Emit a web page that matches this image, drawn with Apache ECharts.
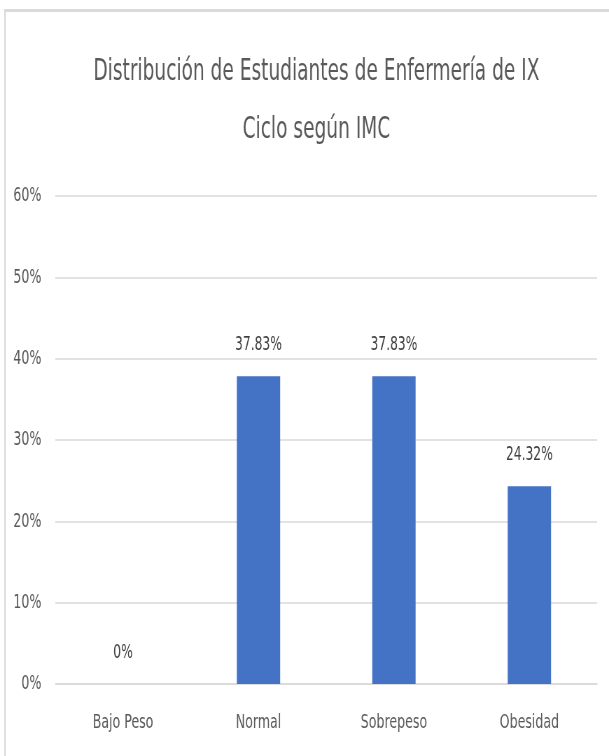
<!DOCTYPE html>
<html>
<head>
<meta charset="utf-8">
<script src="https://cdn.jsdelivr.net/npm/echarts@6/dist/echarts.min.js"></script>
<style>
  html, body { margin: 0; padding: 0; background: #fff; overflow: hidden; }
  #frame { position: absolute; left: 4px; top: 9px; width: 620px; height: 745px;
           border-top: 3px solid #dadada; border-left: 2px solid #e0e0e0; }
  /* el gráfico se dibuja más ancho y se comprime en horizontal, como el original */
  #chart { position: absolute; left: 0; top: 0; width: 870px; height: 756px;
           transform: scaleX(0.7); transform-origin: 0 0; }
</style>
</head>
<body>
<div id="frame"></div>
<div id="chart"></div>
<script>
  // datos del gráfico
  var categorias = ['Bajo Peso', 'Normal', 'Sobrepeso', 'Obesidad'];
  var porcentajes = [0, 37.83, 37.83, 24.32];
  var etiquetas = ['0%', '37.83%', '37.83%', '24.32%'];

  var fuente = '"DejaVu Sans Condensed", "DejaVu Sans", sans-serif';
  var myChart = echarts.init(document.getElementById('chart'));

  var option = {
    animation: false,
    title: {
      text: 'Distribución de Estudiantes de Enfermería de IX\nCiclo según IMC',
      left: 447,
      textAlign: 'center',
      top: 38,
      textStyle: {
        fontFamily: fuente,
        fontWeight: 'normal',
        fontSize: 29.5,
        lineHeight: 58,
        color: '#595959'
      }
    },
    grid: {
      left: 79,
      right: 17,
      top: 196,
      bottom: 72
    },
    xAxis: {
      type: 'category',
      data: categorias,
      axisLine: { lineStyle: { color: '#d9d9d9', width: 1.5 } },
      axisTick: { show: false },
      axisLabel: {
        margin: 29,
        fontFamily: fuente,
        fontSize: 20,
        color: '#595959'
      }
    },
    yAxis: {
      type: 'value',
      min: 0,
      max: 60,
      interval: 10,
      axisLine: { show: false },
      axisTick: { show: false },
      splitLine: { lineStyle: { color: '#d9d9d9', width: 1.5 } },
      axisLabel: {
        margin: 20,
        formatter: '{value}%',
        fontFamily: fuente,
        fontSize: 20,
        color: '#595959'
      }
    },
    series: [{
      type: 'bar',
      data: porcentajes,
      barWidth: '32%',
      itemStyle: { color: '#4472C4' },
      label: {
        show: true,
        position: 'top',
        distance: 21,
        formatter: function(p) { return etiquetas[p.dataIndex]; },
        fontFamily: fuente,
        fontSize: 19.5,
        color: '#404040'
      }
    }]
  };
  myChart.setOption(option);
</script>
</body>
</html>
